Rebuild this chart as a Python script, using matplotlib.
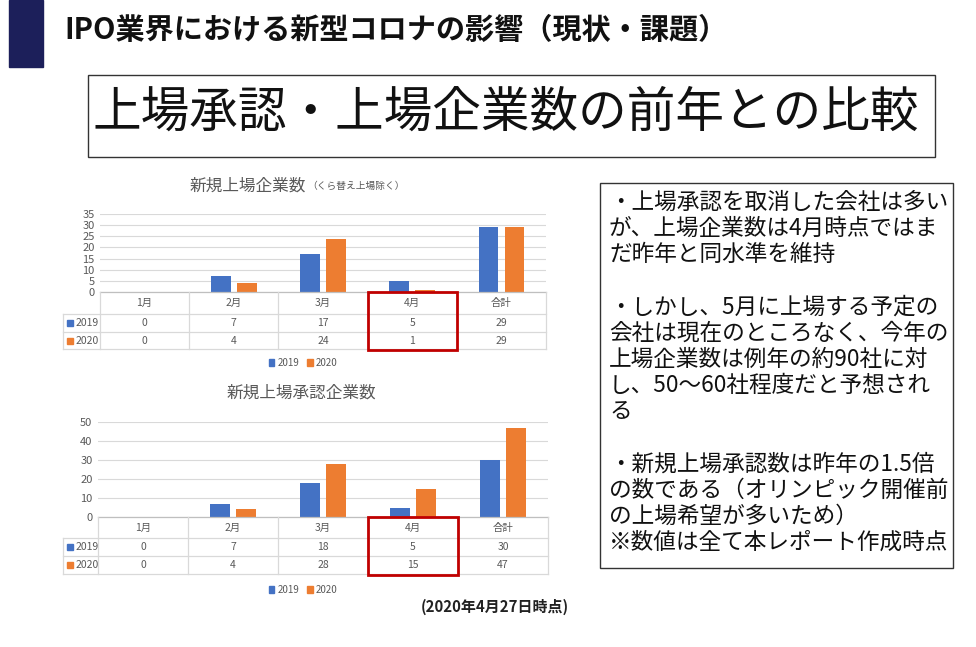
import numpy as np
import matplotlib.pyplot as plt
from matplotlib.patches import Rectangle

plt.rcParams['font.family'] = ['Noto Sans CJK JP', 'DejaVu Sans']

W, H = 976, 647

months = ['1月', '2月', '3月', '4月', '合計']
years = ['2019', '2020']

listed_2019 = [0, 7, 17, 5, 29]
listed_2020 = [0, 4, 24, 1, 29]

approved_2019 = [0, 7, 18, 5, 30]
approved_2020 = [0, 4, 28, 15, 47]

blue = '#4472C4'
orange = '#ED7D31'
grid = '#D9D9D9'
gray = '#595959'

page_title = 'IPO業界における新型コロナの影響（現状・課題）'
headline = '上場承認・上場企業数の前年との比較'
note_lines = [
    '・上場承認を取消した会社は多い',
    'が、上場企業数は4月時点ではま',
    'だ昨年と同水準を維持',
    '',
    '・しかし、5月に上場する予定の',
    '会社は現在のところなく、今年の',
    '上場企業数は例年の約90社に対',
    'し、50〜60社程度だと予想され',
    'る',
    '',
    '・新規上場承認数は昨年の1.5倍',
    'の数である（オリンピック開催前',
    'の上場希望が多いため）',
    '※数値は全て本レポート作成時点',
]


def fx(px):
    return px / W


def fy(py):
    return 1 - py / H


fig = plt.figure(figsize=(W / 100, H / 100), dpi=100)
fig.patch.set_facecolor('white')

# slide header
fig.patches.append(Rectangle((fx(9), fy(67)), fx(43) - fx(9), fy(0) - fy(67),
                             transform=fig.transFigure, color='#1C1F5A'))
fig.text(fx(64), fy(30), page_title, fontsize=21, fontweight='bold',
         va='center', ha='left', color='#111111')

fig.patches.append(Rectangle((fx(88), fy(157)), fx(935) - fx(88), fy(75) - fy(157),
                             transform=fig.transFigure, fill=False,
                             edgecolor='#333333', lw=1))
fig.text(fx(506), fy(113), headline, fontsize=35, va='center', ha='center',
         color='#111111')


def chart(left, right, top, bottom, rows, v19, v20, ymax, step,
          title, subtitle, title_y, legend_y):
    ax = fig.add_axes([fx(left), fy(bottom), fx(right) - fx(left), fy(top) - fy(bottom)])
    x = np.arange(len(months)) + 0.5
    ax.bar(x - 0.145, v19, 0.22, color=blue, zorder=3)
    ax.bar(x + 0.145, v20, 0.22, color=orange, zorder=3)
    ax.set_xlim(0, len(months))
    ax.set_ylim(0, ymax)
    ax.set_yticks(np.arange(0, ymax + 1, step))
    ax.yaxis.grid(True, color=grid, lw=0.8, zorder=0)
    ax.set_xticks([])
    ax.tick_params(axis='y', length=0, pad=4, labelsize=8, labelcolor=gray)
    for s in ax.spines.values():
        s.set_visible(False)

    # data table below the plot
    t_top, t_r1, t_r2, t_bot = rows
    tab = fig.add_axes([fx(left), fy(t_bot), fx(right) - fx(left), fy(t_top) - fy(t_bot)])
    tab.set_xlim(0, len(months))
    tab.set_ylim(t_bot, t_top)
    tab.axis('off')
    px_unit = (right - left) / len(months)
    xl = -(left - 63) / px_unit
    kw = dict(color=grid, lw=0.9, clip_on=False)
    tab.plot([0, len(months)], [t_top, t_top], color='#BFBFBF', lw=0.9, clip_on=False)
    for yy in (t_r1, t_r2, t_bot):
        tab.plot([xl, len(months)], [yy, yy], **kw)
    for i in range(len(months) + 1):
        tab.plot([i, i], [t_top, t_bot], **kw)
    tab.plot([xl, xl], [t_r1, t_bot], **kw)
    for i, m in enumerate(months):
        tab.text(i + 0.5, (t_top + t_r1) / 2, m, ha='center', va='center',
                 fontsize=7.5, color=gray)
        tab.text(i + 0.5, (t_r1 + t_r2) / 2, str(v19[i]), ha='center', va='center',
                 fontsize=7.5, color=gray)
        tab.text(i + 0.5, (t_r2 + t_bot) / 2, str(v20[i]), ha='center', va='center',
                 fontsize=7.5, color=gray)
    sq = 6 / px_unit
    for yr, col, (ya, yb) in zip(years, (blue, orange), ((t_r1, t_r2), (t_r2, t_bot))):
        ym = (ya + yb) / 2
        tab.add_patch(Rectangle((xl + 4 / px_unit, ym - 3), sq, 6, color=col, clip_on=False))
        tab.text(xl + 13 / px_unit, ym, yr, ha='left', va='center', fontsize=7.5, color=gray)
    tab.add_patch(Rectangle((3, t_bot + 1), 1, t_top - t_bot - 1, fill=False,
                            edgecolor='#C00000', lw=2, clip_on=False, zorder=5))

    # title and legend
    if subtitle:
        fig.text(fx(306), fy(title_y), title, fontsize=12, color=gray, ha='right', va='center')
        fig.text(fx(307), fy(title_y), subtitle, fontsize=7, color=gray, ha='left', va='center')
    else:
        fig.text(fx(301), fy(title_y), title, fontsize=12, color=gray, ha='center', va='center')
    handles = [Rectangle((0, 0), 1, 1, color=blue), Rectangle((0, 0), 1, 1, color=orange)]
    fig.legend(handles, years, loc='center', bbox_to_anchor=(fx(303), fy(legend_y)),
               ncol=2, frameon=False, fontsize=7, handlelength=0.6, handleheight=0.6,
               handletextpad=0.3, columnspacing=0.8, labelcolor=gray)


chart(100, 546, 214, 292, (292, 314, 332, 349), listed_2019, listed_2020, 35, 5,
      '新規上場企業数', '（くら替え上場除く）', 186, 363)
chart(98, 548, 422, 517, (517, 538, 556, 574), approved_2019, approved_2020, 50, 10,
      '新規上場承認企業数', None, 393, 590)

fig.text(fx(495), fy(607), '(2020年4月27日時点)', fontsize=10.8, fontweight='bold',
         ha='center', va='center', color='#222222')

# right-hand notes
fig.patches.append(Rectangle((fx(600), fy(568)), fx(953) - fx(600), fy(183) - fy(568),
                             transform=fig.transFigure, fill=False,
                             edgecolor='#333333', lw=1))
for i, line in enumerate(note_lines):
    fig.text(fx(609), fy(202 + i * 26.2), line, fontsize=16.3, ha='left', va='center',
             color='#111111')

fig.savefig('out.png', dpi=100)
